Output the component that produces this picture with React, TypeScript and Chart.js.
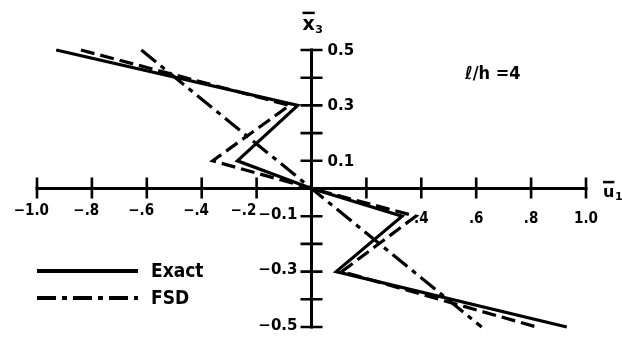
import { useEffect, useRef } from "react";
import { Chart, registerables } from "chart.js";

Chart.register(...registerables);

// Through-thickness in-plane displacement ū1 versus thickness coordinate x̄3
const exactU = [-0.93, -0.05, -0.27, 0, 0.33, 0.09, 0.93];
const exactZ = [0.5, 0.3, 0.1, 0, -0.1, -0.3, -0.5];

const fsdU = [-0.62, 0, 0.62];
const fsdZ = [0.5, 0, -0.5];

// unlabelled dashed zig-zag curve
const dashedU = [-0.84, -0.08, -0.36, 0, 0.38, 0.11, 0.82];
const dashedZ = [0.5, 0.3, 0.1, 0, -0.1, -0.3, -0.5];

const xTicks = [-1.0, -0.8, -0.6, -0.4, -0.2, 0, 0.2, 0.4, 0.6, 0.8, 1.0];
const xTickLabels = ["−1.0", "−.8", "−.6", "−.4", "−.2", "", "", ".4", ".6", ".8", "1.0"];
const zTicks = [0.5, 0.4, 0.3, 0.2, 0.1, 0, -0.1, -0.2, -0.3, -0.4, -0.5];
const zTickLabels = ["0.5", "", "0.3", "", "0.1", "", "−0.1", "", "−0.3", "", "−0.5"];

const legendLabels = ["Exact", "FSD"];
const ratioLabel = "ℓ/h =4";
const xAxisTitle = ["u", "1"];
const zAxisTitle = ["x", "3"];

const INK = "#000";
const SOLID: number[] = [];
const DASH_DOT = [19, 6, 5, 6];
const DASHED = [14, 6];

const toPoints = (xs: number[], ys: number[]) => xs.map((v, i) => ({ x: v, y: ys[i] }));

const LABEL_FONT = "bold 15px 'DejaVu Sans Condensed', 'DejaVu Sans', sans-serif";
const ZLABEL_FONT = "bold 15px 'DejaVu Sans', sans-serif";

function overbarTitle(
  ctx: CanvasRenderingContext2D,
  letter: string,
  sub: string,
  left: number,
  baseline: number,
  size: number
) {
  ctx.font = `bold ${size}px 'DejaVu Sans', sans-serif`;
  ctx.textAlign = "left";
  ctx.textBaseline = "alphabetic";
  const w = ctx.measureText(letter).width;
  ctx.fillText(letter, left, baseline);
  ctx.lineWidth = 2.5;
  ctx.beginPath();
  ctx.moveTo(left, baseline - size * 0.9);
  ctx.lineTo(left + w, baseline - size * 0.9);
  ctx.stroke();
  ctx.font = "bold 11px 'DejaVu Sans', sans-serif";
  ctx.fillText(sub, left + w + 0.5, baseline + 3);
}

const crossAxes = {
  id: "crossAxes",
  beforeDatasetsDraw(chart: any) {
    const { ctx } = chart;
    const x = chart.scales.x;
    const y = chart.scales.y;
    const x0 = x.getPixelForValue(0);
    const y0 = y.getPixelForValue(0);
    ctx.save();
    ctx.strokeStyle = INK;
    ctx.fillStyle = INK;
    ctx.lineCap = "butt";

    // axis lines
    ctx.lineWidth = 3;
    ctx.beginPath();
    ctx.moveTo(x.getPixelForValue(xTicks[0]) - 1.5, y0);
    ctx.lineTo(x.getPixelForValue(xTicks[xTicks.length - 1]) + 1.5, y0);
    ctx.moveTo(x0, y.getPixelForValue(zTicks[0]) - 1.5);
    ctx.lineTo(x0, y.getPixelForValue(zTicks[zTicks.length - 1]) + 1.5);
    ctx.stroke();

    // tick marks crossing the axes
    ctx.lineWidth = 2.6;
    ctx.beginPath();
    xTicks.forEach((v) => {
      const px = x.getPixelForValue(v);
      ctx.moveTo(px, y0 - 11);
      ctx.lineTo(px, y0 + 10);
    });
    zTicks.forEach((v) => {
      const py = y.getPixelForValue(v);
      ctx.moveTo(x0 - 11, py);
      ctx.lineTo(x0 + 11, py);
    });
    ctx.stroke();

    // left edge of the first negative x̄3 label, so x labels can stay clear of it
    ctx.font = ZLABEL_FONT;
    const firstNeg = zTicks.findIndex((v, i) => v < 0 && zTickLabels[i]);
    const zLabelLeft = firstNeg >= 0 ? x0 - 14 - ctx.measureText(zTickLabels[firstNeg]).width - 2 : Infinity;

    // x tick labels, the number part centred under its tick
    ctx.font = LABEL_FONT;
    ctx.textBaseline = "middle";
    ctx.textAlign = "right";
    xTicks.forEach((v, i) => {
      const text = xTickLabels[i];
      if (!text) return;
      const px = x.getPixelForValue(v);
      const body = text.replace(/^−/, "");
      const w = ctx.measureText(body).width;
      let right = px + w / 2;
      if (v < 0) right = Math.min(right, zLabelLeft);
      ctx.fillText(text, right, y0 + (v < 0 ? 23 : 31));
    });

    // x̄3 tick labels: positive to the right, negative to the left
    ctx.font = ZLABEL_FONT;
    zTicks.forEach((v, i) => {
      const text = zTickLabels[i];
      if (!text) return;
      const py = y.getPixelForValue(v);
      if (v > 0) {
        ctx.textAlign = "left";
        ctx.fillText(text, x0 + 16, py + 1);
      } else {
        ctx.textAlign = "right";
        ctx.fillText(text, x0 - 14, py - 1);
      }
    });

    // axis titles
    overbarTitle(ctx, zAxisTitle[0], zAxisTitle[1], x0 - 9, y.getPixelForValue(zTicks[0]) - 20, 19);
    overbarTitle(ctx, xAxisTitle[0], xAxisTitle[1], x.getPixelForValue(xTicks[xTicks.length - 1]) + 17, y0 + 8, 16);

    // span-to-thickness ratio note
    ctx.font = "bold 18px 'DejaVu Sans Condensed', 'DejaVu Sans', sans-serif";
    ctx.textAlign = "left";
    ctx.textBaseline = "middle";
    ctx.fillText(ratioLabel, 465, 74);

    ctx.restore();
  },
  afterDatasetsDraw(chart: any) {
    const { ctx } = chart;
    const left = chart.chartArea.left;
    ctx.save();
    ctx.strokeStyle = INK;
    ctx.fillStyle = INK;
    ctx.font = "bold 19px 'DejaVu Sans Condensed', 'DejaVu Sans', sans-serif";
    ctx.textAlign = "left";
    ctx.textBaseline = "middle";
    legendLabels.forEach((label, i) => {
      const ds = chart.data.datasets[i];
      const ly = 271 + i * 27;
      ctx.lineWidth = 4;
      ctx.setLineDash(ds.borderDash || []);
      ctx.beginPath();
      ctx.moveTo(left, ly);
      ctx.lineTo(left + 101, ly);
      ctx.stroke();
      ctx.setLineDash([]);
      ctx.fillText(label, left + 114, ly + 1);
    });
    ctx.restore();
  },
};

export default function App() {
  const canvasRef = useRef<HTMLCanvasElement | null>(null);

  useEffect(() => {
    const canvas = canvasRef.current;
    if (!canvas) return;
    const lineStyle = {
      showLine: true,
      borderColor: INK,
      backgroundColor: INK,
      borderWidth: 3.2,
      pointRadius: 0,
      borderJoinStyle: "miter" as const,
      borderCapStyle: "butt" as const,
      tension: 0,
      clip: false as const,
    };
    const chart = new Chart(canvas, {
      type: "scatter",
      data: {
        datasets: [
          { ...lineStyle, label: legendLabels[0], data: toPoints(exactU, exactZ), borderDash: SOLID },
          { ...lineStyle, label: legendLabels[1], data: toPoints(fsdU, fsdZ), borderDash: DASH_DOT },
          { ...lineStyle, label: "dashed", data: toPoints(dashedU, dashedZ), borderDash: DASHED },
        ],
      },
      options: {
        responsive: false,
        animation: false,
        devicePixelRatio: 1,
        events: [],
        layout: { padding: { left: 37, right: 36, top: 50, bottom: 10 } },
        plugins: { legend: { display: false }, tooltip: { enabled: false } },
        scales: {
          x: { type: "linear", min: -1, max: 1, display: false },
          y: { type: "linear", min: -0.5, max: 0.5, display: false },
        },
      },
      plugins: [crossAxes],
    });
    return () => chart.destroy();
  }, []);

  return (
    <div style={{ position: "fixed", left: 0, top: 0, width: 622, height: 337, background: "#fff" }}>
      <canvas ref={canvasRef} width={622} height={337} style={{ display: "block" }} />
    </div>
  );
}
